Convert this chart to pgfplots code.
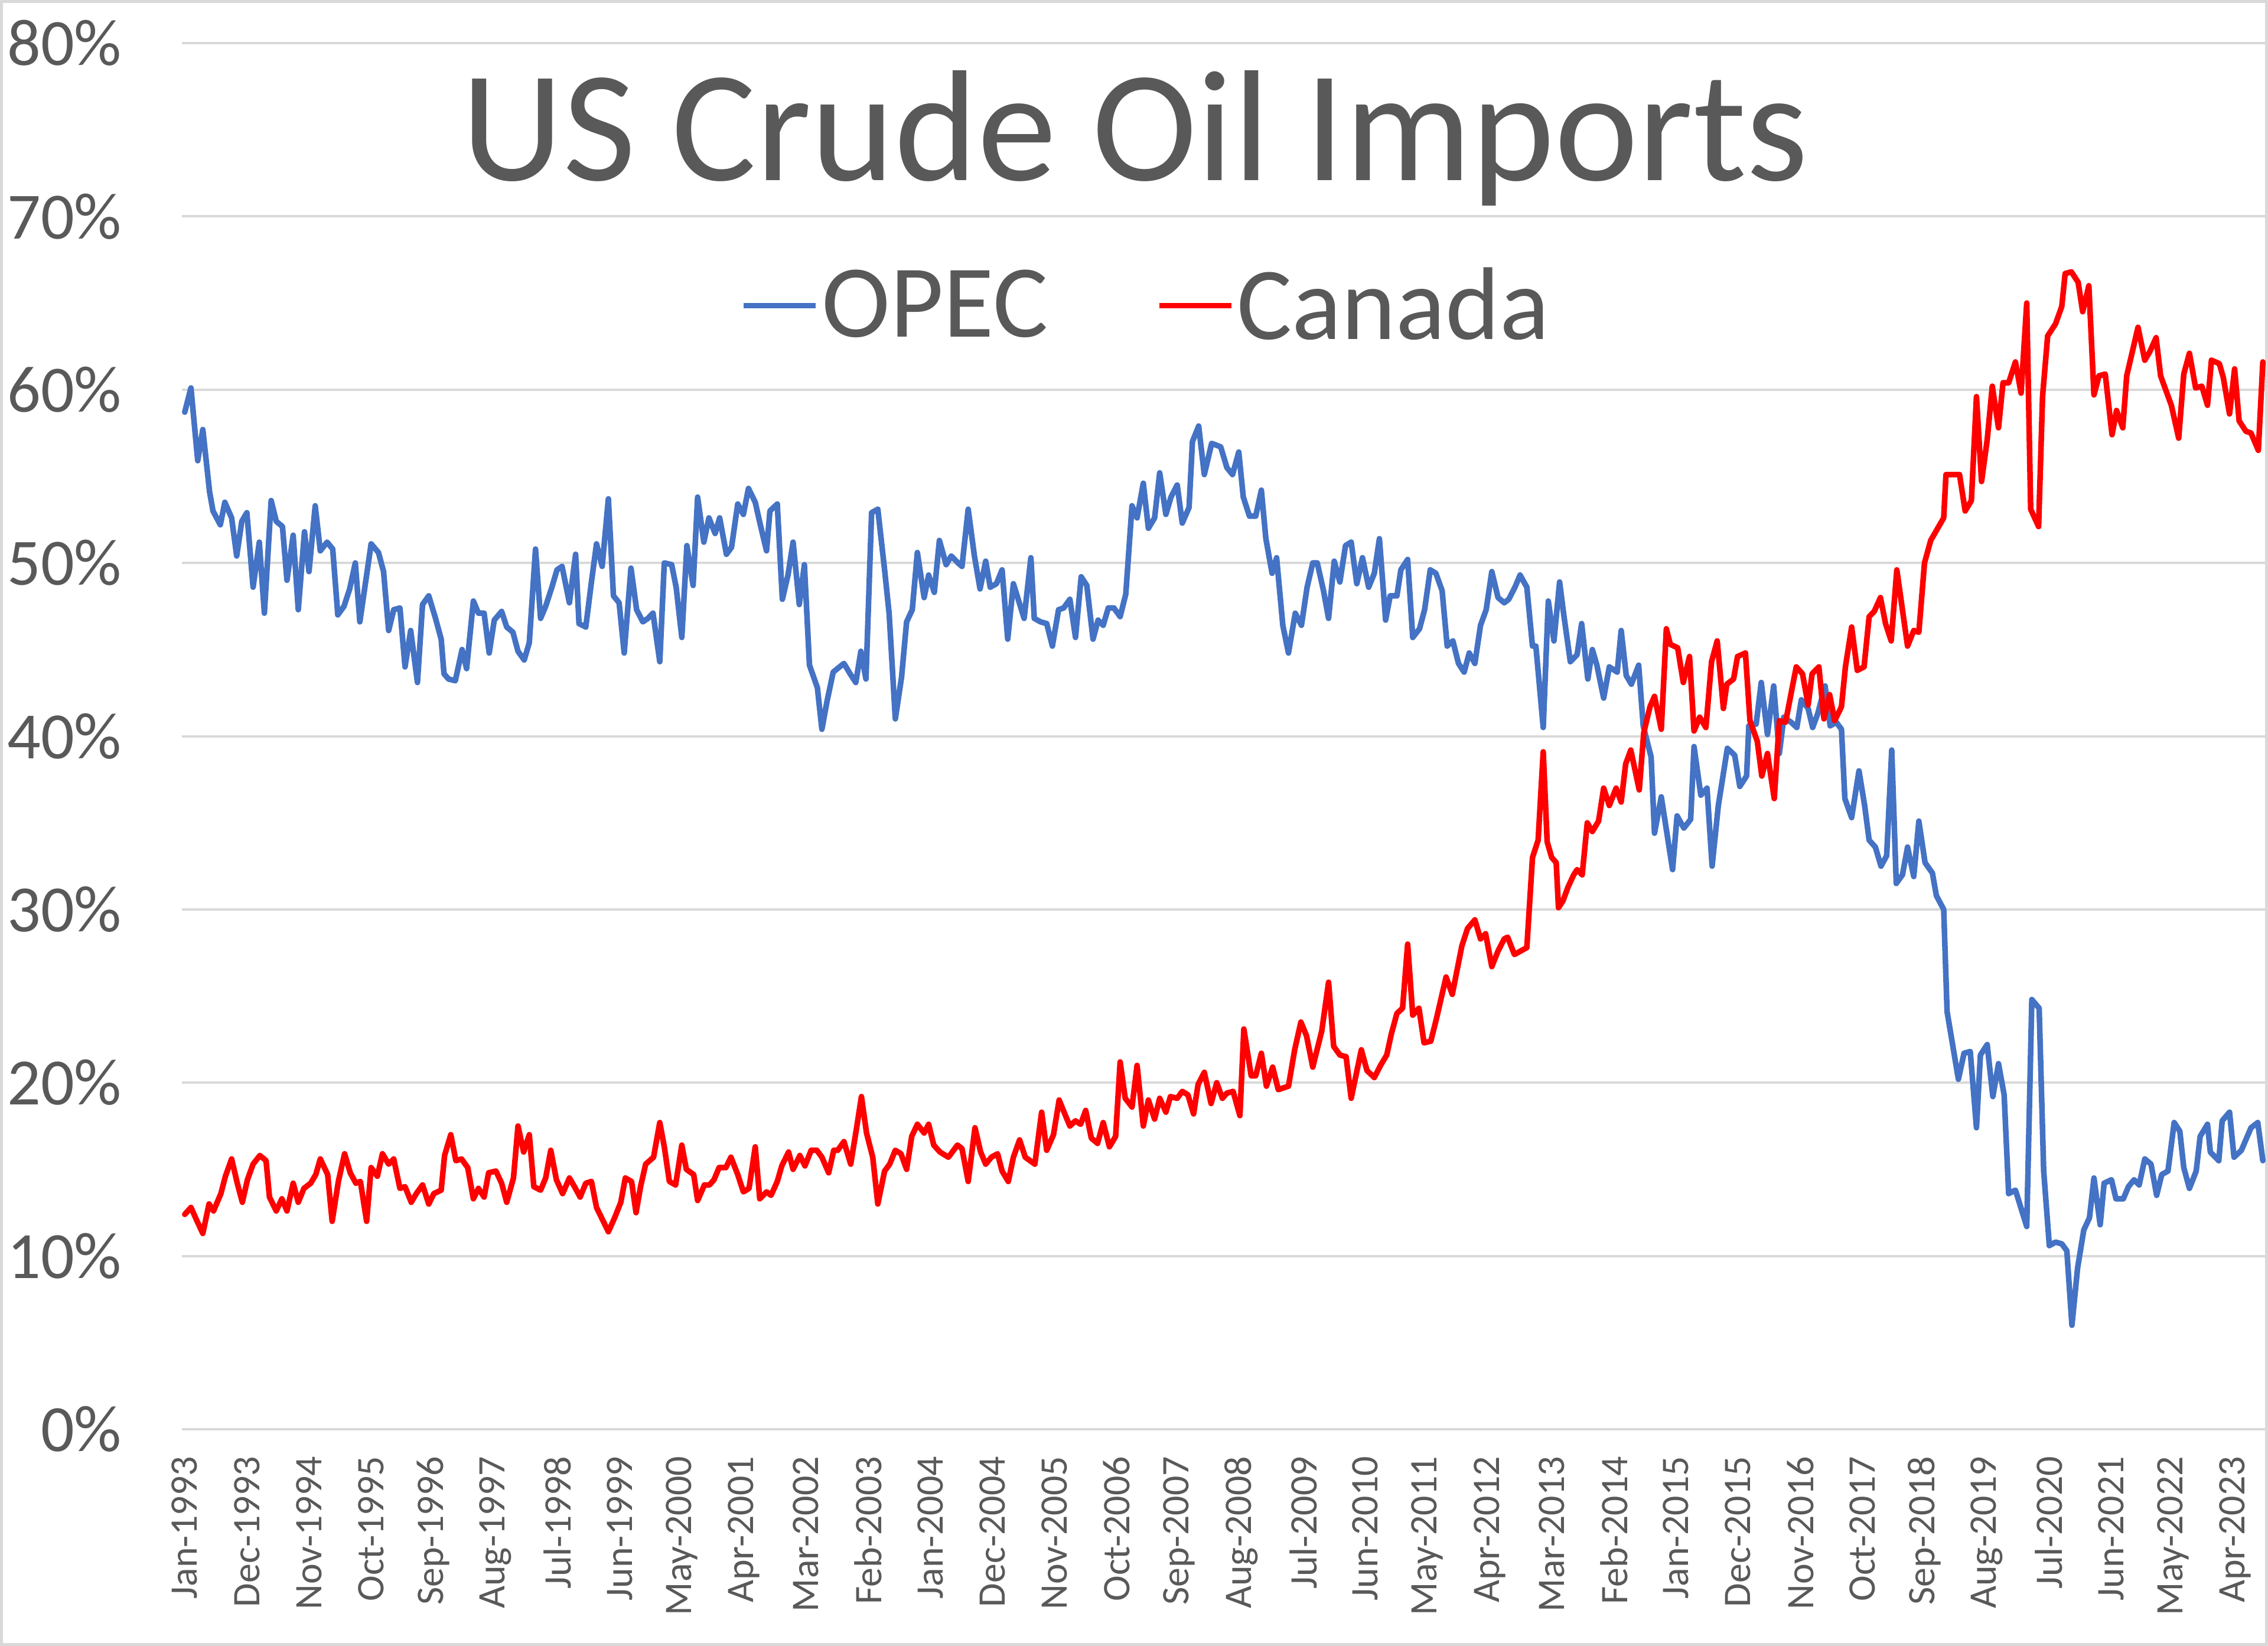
\documentclass[border=0pt]{standalone}
\usepackage{pgfplots}
\pgfplotsset{compat=1.18}
\usepackage{fontspec}
\setmainfont{Carlito}
\definecolor{opec}{HTML}{4472C4}
\definecolor{canada}{HTML}{FF0000}
\definecolor{txt}{HTML}{595959}
\definecolor{gridc}{HTML}{D9D9D9}

\begin{document}
\begin{tikzpicture}
\useasboundingbox (0,0) rectangle (384pt,278.7pt);
\fill[white] (0,0) rectangle (384pt,278.7pt);
\draw[gridc, line width=0.5pt] (0.25pt,0.25pt) rectangle (383.75pt,278.45pt);
\begin{axis}[
  at={(30.8pt,36.7pt)}, anchor=south west,
  scale only axis, width=352.9pt, height=234.7pt,
  xmin=-0.5, xmax=368.5, ymin=0, ymax=80,
  clip=false,
  axis line style={draw=none},
  ymajorgrids, grid style={gridc, line width=0.4pt},
  major tick length=0pt,
  /pgf/number format/assume math mode=true,
  ytick={0,10,...,80},
  yticklabel={\pgfmathprintnumber{\tick}\%},
  yticklabel style={font=\fontsize{11.2}{13}\selectfont, text=txt, inner sep=0pt, anchor=east, xshift=-10pt},
  xtick={0,11,...,363},
  xticklabels={Jan-1993,Dec-1993,Nov-1994,Oct-1995,Sep-1996,Aug-1997,Jul-1998,Jun-1999,May-2000,Apr-2001,Mar-2002,Feb-2003,Jan-2004,Dec-2004,Nov-2005,Oct-2006,Sep-2007,Aug-2008,Jul-2009,Jun-2010,May-2011,Apr-2012,Mar-2013,Feb-2014,Jan-2015,Dec-2015,Nov-2016,Oct-2017,Sep-2018,Aug-2019,Jul-2020,Jun-2021,May-2022,Apr-2023},
  xticklabel style={font=\fontsize{6.6}{8}\selectfont, text=txt, rotate=90, anchor=east, inner sep=0pt},
  xticklabel shift=4.4pt,
  legend columns=2,
  legend image code/.code={\draw[#1, line cap=butt] (0pt,0.4pt) -- (12.2pt,0.4pt);},
  legend style={draw=none, fill=none, inner sep=0pt, at={(rel axis cs:0.2677,0.809)}, anchor=west,
    font=\fontsize{17.5}{20}\selectfont, text=txt, nodes={inner sep=0pt},
    /tikz/every odd column/.append style={column sep=0.5pt},
    /tikz/every even column/.append style={column sep=18.4pt}},
  every axis plot/.append style={line width=0.95pt, line join=round, line cap=round},
]
\addplot[opec] coordinates {
(0,58.7)(1.1,60.1)(2.3,55.9)(3.2,57.7)(4.4,54.1)(5.0,53.0)(6.3,52.2)(7.1,53.5)(8.3,52.6)(9.2,50.4)(10.1,52.4)(11.0,52.9)(12.1,48.6)(13.2,51.2)(14.1,47.1)(15.3,53.6)(16.2,52.4)(17.3,52.1)(18.1,49.0)(19.2,51.6)(20.1,47.3)(21.2,51.8)(22.0,49.5)(23.1,53.3)(24.0,50.7)(25.2,51.2)(26.2,50.8)(27.1,47.0)(28.2,47.5)(29.2,48.5)(30.2,50.0)(31.0,46.6)(33.0,51.1)(34.3,50.6)(35.2,49.5)(36.1,46.1)(37.0,47.3)(38.1,47.4)(39.0,44.0)(40.0,46.1)(41.2,43.1)(42.1,47.6)(43.2,48.1)(44.4,46.8)(45.4,45.6)(45.9,43.6)(46.7,43.3)(47.9,43.2)(49.1,45.0)(49.9,43.9)(51.1,47.8)(52.0,47.1)(53.0,47.1)(53.9,44.8)(54.8,46.7)(56.1,47.2)(57.0,46.3)(58.1,46.0)(59.0,44.9)(60.1,44.4)(61.0,45.4)(62.1,50.8)(63.0,46.8)(63.9,47.5)(65.0,48.6)(65.9,49.6)(66.8,49.8)(68.1,47.7)(69.2,50.5)(69.8,46.5)(71.0,46.3)(72.0,48.9)(72.9,51.1)(73.9,49.8)(75.0,53.7)(75.9,48.1)(76.9,47.7)(77.8,44.8)(79.0,49.7)
(80.0,47.3)(81.1,46.6)(82.0,46.8)(82.9,47.1)(84.1,44.3)(84.9,50.0)(86.2,49.9)(87.0,48.6)(88.0,45.7)(88.9,51.0)(90.0,48.7)(90.8,53.8)(91.9,51.2)(92.8,52.6)(93.9,51.7)(94.7,52.6)(95.9,50.5)(96.8,50.9)(97.9,53.4)(98.9,52.8)(99.8,54.3)(101.0,53.5)(101.9,52.2)(103.0,50.7)(103.6,53.0)(104.9,53.4)(105.8,47.9)(106.8,49.3)(107.7,51.2)(108.8,47.6)(109.7,49.9)(110.6,44.1)(112.0,42.8)(112.8,40.4)(113.7,42.0)(114.8,43.7)(116.7,44.2)(117.8,43.6)(118.8,43.1)(119.7,44.9)(120.6,43.3)(121.6,52.9)(122.7,53.1)(123.9,49.6)(124.7,47.1)(125.8,41.0)(126.9,43.4)(127.8,46.6)(128.8,47.3)(129.7,50.6)(130.9,48.0)(131.7,49.3)(132.7,48.3)(133.6,51.3)(134.8,49.9)(135.7,50.4)(136.9,50.0)(137.6,49.8)(138.7,53.1)(139.8,50.4)(140.8,48.5)(141.8,50.1)(142.6,48.6)(143.7,48.8)(144.7,49.6)(145.7,45.6)(146.7,48.8)(148.6,46.8)(149.8,50.3)(150.4,46.8)(151.5,46.6)(152.6,46.5)(153.6,45.2)(154.7,47.3)(155.6,47.4)(156.7,47.9)(157.7,45.7)
(158.7,49.2)(159.7,48.7)(160.8,45.6)(161.7,46.7)(162.6,46.4)(163.5,47.4)(164.5,47.4)(165.6,46.9)(166.6,48.2)(167.7,53.3)(168.6,52.6)(169.7,54.6)(170.6,52.0)(171.7,52.6)(172.6,55.2)(173.7,52.8)(174.6,53.8)(175.7,54.5)(176.6,52.3)(177.8,53.2)(178.4,57.0)(179.5,57.9)(180.5,55.1)(181.8,56.9)(183.4,56.7)(184.5,55.5)(185.5,55.1)(186.6,56.4)(187.4,53.8)(188.5,52.7)(189.6,52.7)(190.6,54.2)(191.4,51.4)(192.5,49.4)(193.3,50.3)(194.4,46.4)(195.4,44.8)(196.6,47.1)(197.7,46.4)(198.7,48.6)(199.7,50.0)(200.5,50.0)(201.6,48.4)(202.5,46.8)(203.5,50.1)(204.5,48.9)(205.5,51.0)(206.5,51.2)(207.5,48.8)(208.5,50.3)(209.6,48.6)(210.6,49.4)(211.5,51.4)(212.6,46.7)(213.4,48.1)(214.6,48.1)(215.3,49.6)(216.5,50.2)(217.4,45.7)(218.6,46.2)(219.5,47.3)(220.5,49.6)(221.5,49.4)(222.6,48.4)(223.5,45.2)(224.5,45.5)(225.5,44.2)(226.5,43.7)(227.4,44.8)(228.4,44.2)(229.4,46.4)(230.4,47.3)(231.4,49.5)(232.5,48.0)(233.6,47.7)(234.4,47.9)(235.5,48.6)(236.4,49.3)(237.6,48.6)(238.6,45.2)(239.2,45.2)
(240.5,40.5)(241.4,47.8)(242.4,45.5)(243.4,48.9)(244.1,47.1)(245.3,44.3)(246.5,44.7)(247.3,46.5)(248.4,43.3)(249.2,45.0)(250.0,44.1)(251.2,42.2)(252.2,44.0)(253.6,43.7)(254.3,46.1)(255.2,43.5)(256.1,43.0)(257.4,44.1)(258.2,40.6)(259.6,38.8)(260.2,34.4)(261.4,36.5)(263.4,32.3)(264.2,35.4)(265.4,34.7)(266.6,35.2)(267.2,39.4)(268.4,36.6)(269.5,37.0)(270.4,32.5)(271.5,36.0)(273.1,39.3)(274.4,38.9)(275.3,37.1)(276.5,37.7)(276.9,40.6)(278.2,40.7)(279.1,43.1)(280.2,40.1)(281.3,42.9)(282.3,39.0)(283.1,41.1)(284.4,40.8)(285.4,40.5)(286.2,42.1)(287.4,41.6)(288.2,40.5)(289.1,41.3)(290.4,42.9)(291.3,40.6)(292.4,40.8)(293.3,40.4)(293.9,36.4)(295.1,35.3)(296.4,38.0)(297.4,36.0)(298.2,34.0)(299.3,33.6)(300.3,32.5)(301.3,33.1)(302.2,39.2)(303.0,31.5)(304.1,32.0)(305.0,33.6)(306.1,31.9)(307.0,35.1)(308.1,32.7)(309.4,32.1)(310.1,30.8)(311.4,30.0)(312.0,24.1)(314.0,20.2)(315.0,21.7)(316.1,21.8)(317.2,17.4)(317.9,21.6)(319.1,22.2)(320.1,19.2)(321.1,21.1)(322.1,19.3)(322.9,13.6)(324.1,13.8)(326.1,11.7)(327.0,24.8)(328.3,24.3)(329.1,14.9)(330.1,10.6)(331.2,10.8)(332.3,10.7)(333.2,10.3)(334.1,6.0)(335.1,9.3)(336.2,11.5)(337.2,12.2)(338.0,14.5)(339.1,11.8)(339.8,14.2)(341.1,14.4)(341.9,13.3)(343.2,13.3)(344.1,14.0)(345.1,14.4)(346.0,14.1)(347.0,15.6)(348.1,15.3)(349.1,13.5)(350.0,14.7)(351.1,14.9)(352.2,17.7)(353.2,17.2)(353.9,15.1)(354.9,13.9)(356.1,14.9)(356.8,16.9)(358.1,17.6)(358.6,16.0)(360.1,15.5)(360.7,17.8)(362.0,18.3)(362.8,15.7)(364.1,16.1)(365.8,17.4)(367.0,17.7)(367.9,15.5)
};
\addlegendentry{OPEC}
\addplot[canada] coordinates {
(0,12.4)(1.1,12.8)(2.2,12.0)(3.2,11.3)(4.3,13.0)(5.1,12.6)(6.4,13.6)(7.2,14.6)(8.3,15.6)(9.3,14.2)(10.2,13.1)(11.1,14.4)(12.1,15.3)(13.3,15.8)(14.4,15.5)(15.0,13.4)(16.2,12.6)(17.2,13.3)(18.1,12.6)(19.2,14.2)(20.1,13.1)(21.1,13.9)(22.3,14.2)(23.2,14.7)(24.0,15.6)(25.3,14.7)(26.1,12.0)(27.2,14.3)(28.3,15.9)(29.3,14.8)(30.3,14.2)(31.1,14.3)(32.2,12.0)(33.0,15.1)(34.1,14.6)(35.0,15.9)(36.1,15.3)(37.0,15.6)(38.1,13.9)(39.0,14.0)(40.1,13.1)(41.0,13.6)(42.1,14.1)(43.2,13.0)(44.1,13.6)(45.4,13.8)(46.0,15.8)(47.1,17.0)(48.0,15.5)(49.0,15.6)(50.1,15.1)(51.1,13.3)(52.0,13.9)(53.0,13.4)(53.8,14.8)(55.1,14.9)(56.1,14.2)(57.0,13.1)(58.2,14.5)(59.0,17.5)(60.0,16.0)(61.0,17.0)(61.8,14.0)(63.0,13.8)(63.9,14.5)(64.8,16.1)(65.8,14.4)(66.9,13.6)(68.1,14.5)(69.0,14.0)(70.0,13.4)(71.0,14.2)(72.0,14.3)(72.9,12.8)(73.8,12.2)(75.0,11.4)(76.1,12.2)(77.2,13.1)(78.0,14.5)(79.1,14.3)
(79.9,12.5)(80.7,14.0)(81.6,15.3)(83.0,15.7)(84.1,17.7)(84.9,16.3)(85.8,14.3)(86.9,14.1)(88.0,16.4)(88.8,15.0)(90.1,14.7)(90.8,13.2)(92.0,14.1)(92.9,14.1)(93.7,14.4)(94.6,15.1)(95.8,15.1)(96.7,15.7)(97.9,14.7)(98.9,13.7)(99.9,13.9)(101.0,16.3)(101.8,13.3)(103.0,13.7)(103.8,13.5)(104.9,14.3)(105.7,15.2)(106.9,16.0)(107.7,15.0)(108.9,15.8)(109.8,15.2)(110.9,16.1)(111.9,16.1)(112.8,15.7)(114.0,14.8)(114.9,16.1)(115.6,16.1)(116.7,16.6)(117.9,15.3)(118.9,17.3)(119.8,19.2)(120.7,17.1)(121.8,15.7)(122.7,13.0)(123.9,14.9)(124.8,15.3)(125.8,16.1)(126.8,15.9)(127.8,15.0)(128.7,16.9)(129.7,17.6)(130.9,17.1)(131.7,17.6)(132.6,16.4)(133.7,16.0)(135.2,15.7)(136.8,16.4)(137.6,16.2)(138.7,14.3)(139.9,17.4)(140.9,16.0)(141.8,15.3)(142.8,15.7)(143.9,15.9)(144.7,14.9)(145.8,14.3)(146.7,15.7)(147.8,16.7)(148.8,15.7)(150.5,15.3)(151.7,18.3)(152.6,16.1)(153.8,17.0)(154.8,19.0)(155.8,18.2)(156.7,17.5)(157.7,17.8)(158.6,17.6)(159.5,18.4)
(160.5,16.8)(161.6,16.5)(162.6,17.7)(163.7,16.3)(164.8,16.9)(165.6,21.2)(166.5,19.1)(167.7,18.6)(168.6,21.0)(169.7,17.5)(170.6,19.0)(171.7,17.9)(172.6,19.1)(173.7,18.3)(174.5,19.2)(175.7,19.1)(176.6,19.5)(177.6,19.3)(178.6,18.2)(179.4,19.9)(180.5,20.6)(181.7,18.8)(182.7,20.0)(183.7,19.1)(184.5,19.4)(185.6,19.5)(186.8,18.1)(187.5,23.1)(188.8,20.4)(189.6,20.4)(190.6,21.7)(191.5,19.8)(192.6,20.9)(193.6,19.6)(195.4,19.8)(196.5,21.9)(197.6,23.5)(198.6,22.7)(199.7,20.9)(201.3,23.0)(202.5,25.8)(203.4,22.1)(204.5,21.6)(205.6,21.5)(206.5,19.1)(208.3,21.9)(209.3,20.7)(210.6,20.3)(211.7,21.0)(212.8,21.6)(213.6,22.8)(214.6,24.0)(215.6,24.3)(216.5,28.0)(217.4,23.9)(218.5,24.3)(219.4,22.3)(220.6,22.4)(221.6,23.7)(223.3,26.1)(224.4,25.1)(226.1,27.9)(227.1,28.9)(228.4,29.4)(229.4,28.3)(230.3,28.6)(231.4,26.7)(232.5,27.6)(233.6,28.3)(234.2,28.4)(235.4,27.4)(236.5,27.6)(237.6,27.8)
(238.6,33.0)(239.6,34.0)(240.5,39.1)(241.2,33.9)(242.0,33.0)(242.8,32.7)(243.2,30.1)(244.0,30.5)(244.9,31.3)(245.9,32.0)(246.5,32.3)(247.4,32.0)(248.3,35.0)(249.2,34.5)(250.3,35.1)(251.2,37.0)(252.2,36.0)(253.4,37.0)(254.3,36.2)(255.1,38.4)(256.0,39.2)(257.5,36.9)(258.3,40.2)(259.4,41.7)(260.2,42.3)(261.4,40.4)(262.3,46.2)(263.0,45.3)(264.3,45.1)(265.3,43.1)(266.4,44.6)(267.2,40.3)(268.2,41.1)(269.3,40.5)(270.3,44.3)(271.3,45.5)(272.4,41.6)(273.0,43.0)(274.2,43.3)(274.9,44.6)(276.3,44.8)(277.1,40.9)(278.4,39.7)(279.2,37.7)(280.2,39.0)(281.4,36.4)(282.3,40.9)(283.4,40.8)(284.4,42.5)(285.3,44.0)(286.4,43.6)(287.4,41.8)(288.1,43.6)(289.3,44.0)(290.2,41.0)(291.2,42.4)(292.1,40.9)(293.3,41.7)(294.0,44.0)(295.1,46.3)(296.1,43.8)(297.3,44.0)(298.2,46.9)(299.1,47.2)(300.2,48.0)(301.1,46.5)(302.1,45.5)(303.1,49.6)(305.0,45.2)(306.1,46.1)(307.0,46.0)(308.0,50.0)(309.1,51.3)(311.4,52.6)(311.8,55.1)(314.2,55.1)(315.2,53.0)(316.3,53.6)(317.2,59.6)(318.1,54.7)(319.1,57.1)(320.0,60.2)(321.1,57.8)(321.9,60.4)(322.9,60.4)(324.1,61.6)(325.1,59.8)(326.1,65.0)(326.8,53.1)(328.2,52.1)(328.9,59.6)(329.8,63.1)(331.2,63.8)(332.3,64.8)(332.9,66.7)(334.0,66.8)(335.2,66.2)(336.0,64.5)(337.1,66.0)(338.0,59.7)(338.9,60.8)(340.0,60.9)(341.2,57.4)(342.0,58.8)(343.1,57.8)(343.8,60.8)(344.8,62.2)(345.8,63.6)(347.0,61.7)(347.9,62.2)(349.0,63.0)(349.8,60.8)(350.8,59.9)(351.7,59.1)(353.0,57.2)(353.9,60.9)(354.9,62.1)(356.0,60.1)(357.1,60.2)(358.1,59.1)(358.8,61.7)(360.2,61.5)(360.9,60.7)(362.0,58.6)(362.9,61.2)(363.7,58.2)(364.9,57.6)(365.8,57.5)(367.1,56.5)(367.9,61.6)
};
\addlegendentry{Canada}
\end{axis}
\node[anchor=base, text=txt, font=\fontsize{26.8}{30}\selectfont, inner sep=0pt] at (192.2pt,248.1pt) {US Crude Oil Imports};
\end{tikzpicture}
\end{document}
